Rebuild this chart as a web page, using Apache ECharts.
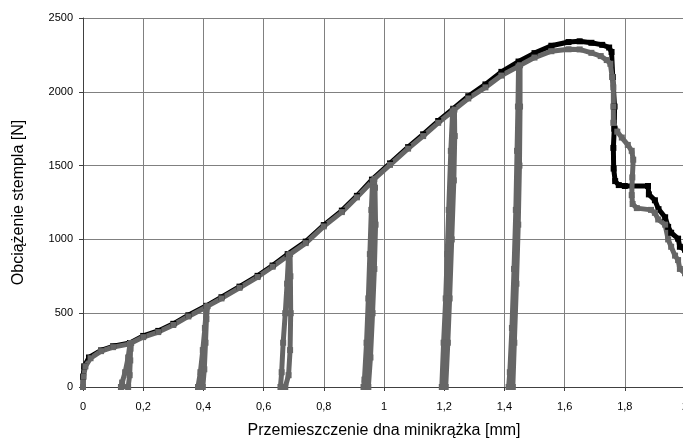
<!DOCTYPE html>
<html>
<head>
<meta charset="utf-8">
<script src="https://cdn.jsdelivr.net/npm/echarts@6/dist/echarts.min.js"></script>
<style>
  html, body {margin: 0; padding: 0; background: #fff;}
  #chart {width: 683px; height: 441px;}
</style>
</head>
<body>
<div id="chart"></div>
<script>
// displacement [mm], load [N]
const monotonicCurve = [
  [0, 0], [0, 70], [0.004, 140], [0.02, 200], [0.06, 248], [0.1, 276], [0.156, 298],
  [0.2, 346], [0.25, 380], [0.3, 428], [0.35, 486], [0.41, 550], [0.46, 608],
  [0.52, 680], [0.58, 753], [0.63, 823], [0.68, 900], [0.74, 985], [0.8, 1097],
  [0.86, 1195], [0.91, 1295], [0.96, 1405], [1.02, 1515], [1.08, 1625], [1.13, 1712],
  [1.18, 1802], [1.23, 1885], [1.28, 1970], [1.337, 2050], [1.39, 2135], [1.447, 2205],
  [1.5, 2262], [1.556, 2312], [1.613, 2337], [1.65, 2342],
  [1.689, 2332], [1.725, 2318], [1.748, 2300], [1.756, 2270], [1.76, 2100],
  [1.766, 1900], [1.765, 1750], [1.762, 1620], [1.763, 1480], [1.768, 1395],
  [1.78, 1368], [1.8, 1362], [1.877, 1362], [1.88, 1305], [1.9, 1265], [1.912, 1205],
  [1.934, 1150], [1.944, 1085], [1.954, 1045], [1.977, 1005], [1.983, 950], [2.0, 930]
]

const cyclicCurve = [
  // loading up to 1st unloading
  [0, 0], [0.002, 70], [0.008, 140], [0.025, 195], [0.06, 243], [0.1, 270], [0.156, 292],
  // loop 1
  [0.15, 200], [0.14, 100], [0.13, 30], [0.126, 0], [0.15, 0],
  [0.155, 80], [0.157, 180], [0.158, 260], [0.16, 298],
  [0.2, 338], [0.25, 372], [0.3, 420], [0.35, 478], [0.41, 542],
  // loop 2
  [0.405, 400], [0.398, 250], [0.39, 100], [0.382, 0], [0.398, 0],
  [0.403, 120], [0.407, 300], [0.41, 460], [0.414, 548],
  [0.46, 600], [0.52, 672], [0.58, 745], [0.63, 815], [0.683, 893],
  // loop 3
  [0.678, 700], [0.672, 500], [0.665, 300], [0.66, 100], [0.656, 0], [0.672, 0],
  [0.683, 80], [0.688, 250], [0.69, 500], [0.689, 750], [0.688, 900],
  [0.74, 975], [0.8, 1088], [0.86, 1185], [0.91, 1285], [0.962, 1395],
  // loop 4
  [0.958, 1200], [0.953, 900], [0.948, 600], [0.942, 300], [0.935, 50], [0.932, 0],
  [0.948, 0], [0.955, 200], [0.962, 500], [0.968, 800], [0.972, 1100], [0.97, 1350],
  [0.968, 1410],
  [1.02, 1505], [1.08, 1615], [1.13, 1700], [1.18, 1790], [1.228, 1868],
  // loop 5
  [1.222, 1600], [1.215, 1200], [1.21, 900], [1.205, 600], [1.198, 300], [1.192, 0],
  [1.205, 0], [1.212, 300], [1.218, 600], [1.225, 1000], [1.232, 1400], [1.235, 1700],
  [1.234, 1880],
  [1.28, 1955], [1.337, 2030], [1.39, 2110], [1.447, 2172],
  // loop 6
  [1.445, 1900], [1.442, 1600], [1.438, 1200], [1.432, 800], [1.425, 400], [1.418, 100],
  [1.414, 0], [1.428, 0], [1.433, 300], [1.44, 700], [1.446, 1100], [1.45, 1500],
  [1.452, 1900], [1.452, 2180],
  // after last unloading
  [1.5, 2232], [1.556, 2275], [1.613, 2288], [1.65, 2287], [1.689, 2264], [1.72, 2242],
  [1.74, 2215], [1.752, 2190], [1.758, 2100], [1.762, 2030], [1.762, 1900],
  [1.762, 1790], [1.775, 1730], [1.79, 1690], [1.81, 1640], [1.823, 1600],
  [1.828, 1540], [1.825, 1420], [1.823, 1300], [1.826, 1240], [1.84, 1212],
  [1.887, 1200], [1.9, 1180], [1.911, 1135], [1.934, 1100], [1.944, 1000],
  [1.954, 950], [1.967, 890], [1.977, 860], [1.983, 800], [2.0, 770]
]

const xName = 'Przemieszczenie dna minikrążka [mm]'
const yName = 'Obciążenie stempla [N]'

const myChart = echarts.init(document.getElementById('chart'), null, {renderer: 'canvas'})

const font = 'Liberation Sans, Arial, sans-serif'
const gridColor = '#808080'

myChart.setOption({
  animation: false,
  grid: {left: 83, right: -2, top: 18, bottom: 54, outerBoundsMode: 'none', containLabel: false},
  xAxis: {
    type: 'value',
    min: 0,
    max: 2,
    interval: 0.2,
    name: xName,
    nameLocation: 'middle',
    nameGap: 36,
    nameTextStyle: {fontFamily: font, fontSize: 16, color: '#000'},
    axisLine: {onZero: false, lineStyle: {color: '#404040', width: 1}},
    axisTick: {show: true, length: 4, lineStyle: {color: '#404040'}},
    axisLabel: {
      fontFamily: font, fontSize: 11, color: '#000', margin: 14,
      formatter(val) {
        return String(Math.round(val * 10) / 10).replace('.', ',')
      }
    },
    splitLine: {show: true, lineStyle: {color: gridColor, width: 1}}
  },
  yAxis: {
    type: 'value',
    min: 0,
    max: 2500,
    interval: 500,
    name: yName,
    nameLocation: 'middle',
    nameGap: 56,
    nameTextStyle: {fontFamily: font, fontSize: 16, color: '#000'},
    axisLine: {show: true, lineStyle: {color: '#404040', width: 1}},
    axisTick: {show: true, length: 4, lineStyle: {color: '#404040'}},
    axisLabel: {
      fontFamily: font, fontSize: 11, color: '#000', margin: 10,
      formatter(val) {
        return String(val)
      }
    },
    splitLine: {show: true, lineStyle: {color: gridColor, width: 1}}
  },
  series: [{
    type: 'line',
    data: monotonicCurve,
    color: '#000',
    symbol: 'rect',
    symbolSize: 6,
    showAllSymbol: true,
    lineStyle: {width: 5, color: '#000'},
    itemStyle: {color: '#000'}
  }, {
    type: 'line',
    data: cyclicCurve,
    color: '#666',
    symbol: 'rect',
    symbolSize: 6,
    showAllSymbol: true,
    lineStyle: {width: 5, color: '#666'},
    itemStyle: {color: '#666'}
  }]
})
</script>
</body>
</html>
